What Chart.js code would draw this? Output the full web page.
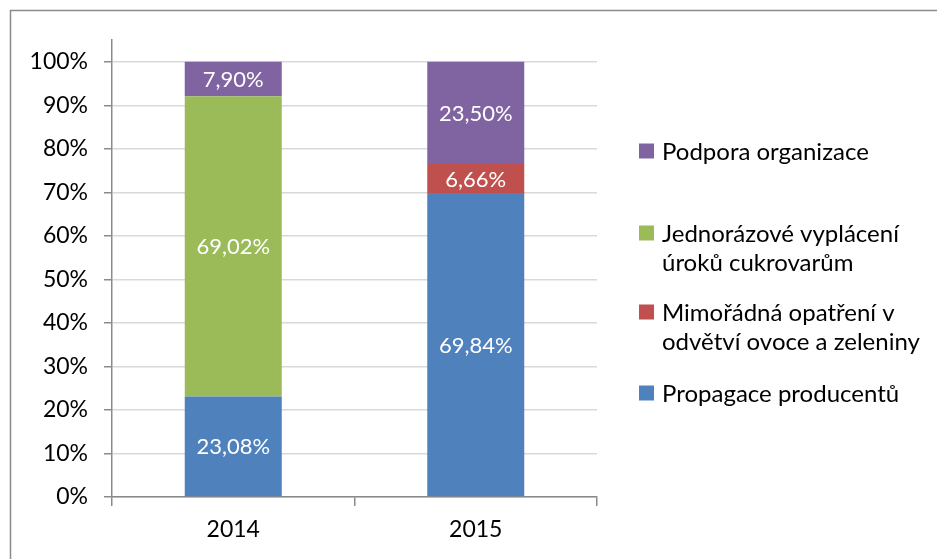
<!DOCTYPE html>
<html>
<head>
<meta charset="utf-8">
<script src="https://cdn.jsdelivr.net/npm/chart.js@4"></script>
<style>
  html, body { margin: 0; padding: 0; background: #fff; }
  #wrap { position: relative; width: 937px; height: 559px; }
</style>
</head>
<body>
<div id="wrap"><canvas id="chart" width="937" height="559"></canvas></div>
<script>
// === Data ===
const years = ['2014', '2015'];
const propagace = [23.08, 69.84];
const mimoradna = [0, 6.66];
const jednorazove = [69.02, 0];
const podpora = [7.90, 23.50];
const yTicks = [0, 10, 20, 30, 40, 50, 60, 70, 80, 90, 100];

const seriesNames = [
  ['Propagace producentů'],
  ['Mimořádná opatření v', 'odvětví ovoce a zeleniny'],
  ['Jednorázové vyplácení', 'úroků cukrovarům'],
  ['Podpora organizace']
];
const seriesColors = ['#4F81BD', '#C0504D', '#9BBB59', '#8064A2'];

const FONT = 'Lato, "Open Sans", sans-serif';

const fmt = v => v.toFixed(2).replace('.', ',') + '%';

// === Plugins ===
const frame = {
  id: 'frame',
  beforeDraw(chart) {
    const c = chart.ctx;
    c.save();
    c.strokeStyle = '#8a8a8a';
    c.lineWidth = 1.5;
    c.beginPath();
    c.moveTo(10.5, chart.height);
    c.lineTo(10.5, 10.5);
    c.lineTo(chart.width, 10.5);
    c.stroke();
    c.restore();
  }
};

const barLabels = {
  id: 'barLabels',
  afterDatasetsDraw(chart) {
    const c = chart.ctx;
    c.save();
    c.font = '22px ' + FONT;
    c.fillStyle = '#fff';
    c.textAlign = 'center';
    c.textBaseline = 'middle';
    chart.data.datasets.forEach((ds, i) => {
      chart.getDatasetMeta(i).data.forEach((bar, j) => {
        const v = ds.data[j];
        if (!v) return;
        const mid = (bar.y + bar.base) / 2;
        c.fillText(fmt(v), bar.x, mid + 1);
      });
    });
    c.restore();
  }
};

const sideLegend = {
  id: 'sideLegend',
  afterDraw(chart) {
    const c = chart.ctx;
    const rows = [151, 233, 312, 393];
    c.save();
    c.font = '24px ' + FONT;
    c.textBaseline = 'middle';
    c.textAlign = 'left';
    // legend listed top-down in reverse stack order
    chart.data.datasets.slice().reverse().forEach((ds, k) => {
      const y = rows[k];
      c.fillStyle = ds.backgroundColor;
      c.fillRect(639, y - 7.5, 15, 15);
      c.fillStyle = '#000';
      ds.label.forEach((line, n) => c.fillText(line, 662, y + 1 + n * 29));
    });
    c.restore();
  }
};

// === Chart ===
const datasets = [propagace, mimoradna, jednorazove, podpora].map((d, i) => ({
  label: seriesNames[i],
  data: d,
  backgroundColor: seriesColors[i],
  borderWidth: 0,
  barPercentage: 0.4,
  categoryPercentage: 1
}));

new Chart(document.getElementById('chart'), {
  type: 'bar',
  data: { labels: years, datasets },
  options: {
    responsive: false,
    animation: false,
    layout: { padding: { left: 10, right: 340, top: 40, bottom: 0 } },
    plugins: { legend: { display: false }, tooltip: { enabled: false } },
    scales: {
      x: {
        stacked: true,
        offset: true,
        border: { color: '#8a8a8a', width: 1.5 },
        grid: { offset: true, drawOnChartArea: false, drawTicks: true, tickLength: 9, color: '#8a8a8a', lineWidth: 1.5 },
        ticks: { color: '#000', font: { family: FONT, size: 23 }, padding: 10 },
        afterFit: s => { s.height = 62; }
      },
      y: {
        stacked: true,
        min: 0,
        max: 105,
        afterBuildTicks: s => { s.ticks = yTicks.map(v => ({ value: v })); },
        border: { color: '#8a8a8a', width: 1.5 },
        grid: { color: '#d9d9d9', lineWidth: 1.5, tickLength: 8, tickColor: '#8a8a8a' },
        ticks: { color: '#000', font: { family: FONT, size: 23 }, padding: 16, callback: v => v + '%' },
        afterFit: s => { s.width = 102; }
      }
    }
  },
  plugins: [frame, barLabels, sideLegend]
});
</script>
</body>
</html>
